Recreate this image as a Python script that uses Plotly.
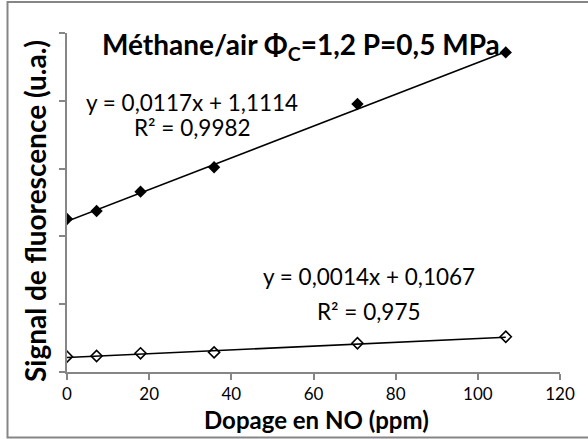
import plotly.graph_objects as go

# Data
dopage_no = [0, 7.2, 17.9, 35.8, 70.7, 106.8]
signal_haut = [1.128, 1.187, 1.330, 1.510, 1.976, 2.357]
signal_bas = [0.113, 0.118, 0.138, 0.145, 0.212, 0.260]

# Linear trendline coefficients shown on the chart
pente = [0.0117, 0.0014]
ordonnee = [1.1114, 0.1067]
equations = ["y = 0,0117x + 1,1114", "y = 0,0014x + 0,1067"]
r2_labels = ["R² = 0,9982", "R² = 0,975"]

x_ticks = [0, 20, 40, 60, 80, 100, 120]
y_ticks = [0, 0.5, 1.0, 1.5, 2.0, 2.5]

FONT = "Lato"
GRAY = "#868686"

fig = go.Figure()

x_fit = [min(dopage_no), max(dopage_no)]
for a, b in zip(pente, ordonnee):
    fig.add_trace(go.Scatter(
        x=x_fit, y=[a * xv + b for xv in x_fit], mode="lines",
        line=dict(color="black", width=1.6), hoverinfo="skip", showlegend=False))

fig.add_trace(go.Scatter(
    x=dopage_no, y=signal_haut, mode="markers",
    marker=dict(symbol="diamond", size=9.5, color="black", line=dict(width=0)),
    showlegend=False))
fig.add_trace(go.Scatter(
    x=dopage_no, y=signal_bas, mode="markers",
    marker=dict(symbol="diamond-open", size=8.5, color="black", line=dict(width=1.6, color="black")),
    showlegend=False))

L, R, T, B = 67, 28, 33, 67
W, H = 588, 439
pw, ph = W - L - R, H - T - B


def px(xp):
    return (xp - L) / pw


def py(yp):
    return (H - B - yp) / ph


annots = [
    dict(text="<b>Méthane/air Φ<sub>C</sub>=1,2 P=0,5 MPa</b>", x=px(301), y=py(46), size=28),
    dict(text=equations[0], x=px(192), y=py(102), size=22.5),
    dict(text=r2_labels[0], x=px(192), y=py(127), size=22.5),
    dict(text=equations[1], x=px(369), y=py(276), size=22.5),
    dict(text=r2_labels[1], x=px(369), y=py(311), size=22.5),
    dict(text="<b>Dopage en NO (ppm)</b>", x=px(316), y=py(419), size=24),
]
for a in annots:
    fig.add_annotation(text=a["text"], x=a["x"], y=a["y"], xref="paper", yref="paper",
                       xanchor="center", yanchor="middle", showarrow=False,
                       font=dict(family=FONT, size=a["size"], color="black"))

fig.add_annotation(text="<b>Signal de fluorescence (u.a.)</b>", x=px(35), y=py(211),
                   xref="paper", yref="paper", xanchor="center", yanchor="middle",
                   showarrow=False, textangle=-90,
                   font=dict(family=FONT, size=28, color="black"))

# chart border
fig.add_shape(type="rect", xref="paper", yref="paper",
              x0=px(7.5), x1=px(592), y0=py(2), y1=py(437.5),
              line=dict(color=GRAY, width=2), fillcolor="rgba(0,0,0,0)", layer="above")

fig.update_layout(
    width=W, height=H,
    margin=dict(l=L, r=R, t=T, b=B),
    paper_bgcolor="white", plot_bgcolor="white",
    font=dict(family=FONT, color="black"),
    xaxis=dict(range=[0, 120], tickvals=x_ticks, ticks="outside", ticklen=6,
               tickcolor=GRAY, tickwidth=2, showline=True, linecolor=GRAY, linewidth=2,
               showgrid=False, zeroline=False, tickfont=dict(size=17, family=FONT, color="black")),
    yaxis=dict(range=[0, 2.5], tickvals=y_ticks, ticks="outside", ticklen=6,
               tickcolor=GRAY, tickwidth=2, showline=True, linecolor=GRAY, linewidth=2,
               showgrid=False, zeroline=False, showticklabels=False),
)

fig.write_html("out.html", config={"displayModeBar": False},
               post_script="document.body.style.margin='0';")
